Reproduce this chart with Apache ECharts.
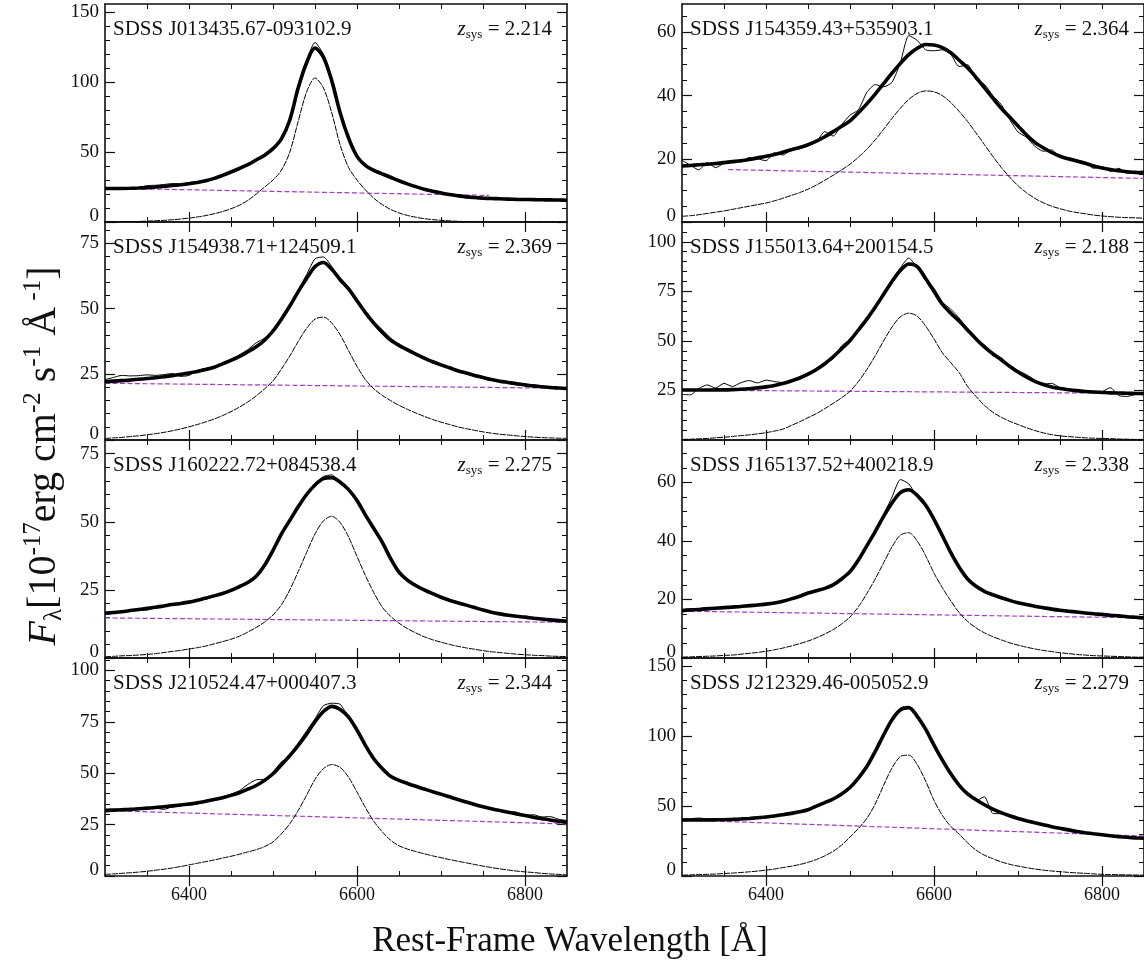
<!DOCTYPE html>
<html><head><meta charset="utf-8">
<script src="https://cdn.jsdelivr.net/npm/echarts@6/dist/echarts.min.js"></script>
<style>html,body{margin:0;padding:0;background:#fff}#c{width:1144px;height:976px}</style>
</head><body><div id="c"></div>
<script>
// ---------------- DATA ----------------
const WAVE = [6300,6310,6320,6330,6340,6350,6360,6370,6380,6390,
              6400,6410,6420,6430,6440,6450,6460,6470,6480,6490,
              6500,6510,6520,6530,6540,6550,6560,6570,6580,6590,
              6600,6610,6620,6630,6640,6650,6660,6670,6680,6690,
              6700,6710,6720,6730,6740,6750,6760,6770,6780,6790,
              6800,6810,6820,6830,6840,6850];

const X_LABELS = [6400, 6600, 6800];
const X_MINOR_TICKS = [6350,6400,6450,6500,6550,6600,6650,6700,6750,6800];

const NAMES = ["SDSS J013435.67-093102.9","SDSS J154359.43+535903.1",
               "SDSS J154938.71+124509.1","SDSS J155013.64+200154.5",
               "SDSS J160222.72+084538.4","SDSS J165137.52+400218.9",
               "SDSS J210524.47+000407.3","SDSS J212329.46-005052.9"];
const ZSYS = ["2.214","2.364","2.369","2.188","2.275","2.338","2.344","2.279"];

const Y_MAX = [156, 69, 83, 110, 80, 74.5, 106, 156];
const Y_LABELS = [[0,50,100,150],[0,20,40,60],[0,25,50,75],[25,50,75,100],
                  [0,25,50,75],[0,20,40,60],[0,25,50,75,100],[0,50,100,150]];
const Y_MINOR = [10,5,5,5,5,5,5,10];

// continuum (start/end wavelength, start/end flux)
const CONT_WAVE = [[6344,6757],[6355,6850],[6300,6850],[6300,6850],[6300,6850],[6300,6850],[6300,6850],[6300,6850]];
const CONT_FLUX = [[23.7,19.0],[16.6,13.8],[21.6,19.7],[25.2,23.5],[14.7,13.1],[16.0,13.7],[31.8,25.3],[40.1,28.6]];

// ---- J013435.67-093102.9 ----
const L1_FIT = [24.0,24.0,24.0,24.1,24.3,24.6,25.0,25.5,26.1,26.7,
  27.4,28.3,29.5,31.2,33.4,35.8,38.3,41.0,44.4,47.8,
  52.5,59.5,73.0,96.0,114.0,124.5,118.0,101.0,78.0,60.0,
  47.0,40.5,37.0,34.5,32.0,29.5,27.3,25.3,23.5,22.0,
  20.8,19.7,18.8,18.0,17.5,17.1,16.8,16.6,16.4,16.2,
  16.1,16.0,15.9,15.8,15.7,15.6];
const L1_OBS = [null,null,null,null,24.8,26.0,26.3,26.8,27.5,27.2,
  28.3,28.8,30.0,31.5,33.8,36.5,38.8,41.6,44.6,48.2,
  52.8,60.0,74.0,97.0,116.0,128.5,120.0,102.0,79.0,61.0,
  46.5,40.0,36.0,33.5,31.2,29.0,27.0,25.2,23.8,22.4,
  21.5,20.0,19.5,18.3,17.6,17.2,null,null,null,null,
  null,null,null,null,null,null];
const L1_COMP = [0,0.1,0.2,0.3,0.4,0.6,0.9,1.2,1.6,2.1,
  2.8,3.6,4.6,5.9,7.5,9.5,12,15.5,20,25,
  30,37,50,72,93,103,96,78,55,39,
  30,23,17,12.5,9,6.5,4.7,3.4,2.4,1.7,
  1.2,0.8,0.5,0.3,0.2,0.1,0,0,0,0,
  0,0,0,0,0,0];

// ---- J154359.43+535903.1 ----
const R1_FIT = [17.7,17.9,18.1,18.3,18.5,18.8,19.1,19.4,19.8,20.3,
  20.8,21.4,22.1,22.9,23.6,24.5,25.6,27.0,28.6,30.3,
  32.0,34.6,37.4,40.5,43.8,47.1,50.2,53.0,55.0,56.2,
  56.0,55.2,53.6,51.2,48.8,45.8,42.5,39.2,36.0,33.2,
  30.4,27.6,25.2,23.5,22.0,20.8,20.0,19.3,18.6,17.7,
  17.1,16.6,16.2,15.9,15.7,15.5];
const R1_OBS = [19.5,18.0,16.5,18.8,17.2,18.6,19.3,19.0,20.4,20.0,
  19.4,21.9,21.2,22.8,23.2,24.0,25.4,28.6,27.2,30.8,
  33.8,35.5,41.0,43.5,42.8,44.2,50.5,59.0,57.5,54.5,
  54.2,54.5,53.0,49.2,49.8,45.0,43.6,40.0,37.2,32.5,
  28.5,26.8,24.0,22.4,22.8,20.6,20.3,19.6,19.0,17.0,
  17.6,16.0,17.0,15.4,15.9,16.2];
const R1_COMP = [1.8,2.0,2.3,2.7,3.1,3.5,4.0,4.5,5.0,5.5,
  6.0,6.7,7.5,8.4,9.3,10.4,11.7,13.2,14.8,16.5,
  18.3,20.5,23.0,26.0,29.3,32.8,36.0,38.8,40.7,41.5,
  41.2,40.0,37.8,35.0,31.8,28.2,24.5,20.8,17.3,14.2,
  11.5,9.3,7.5,6.1,5.0,4.2,3.5,3.0,2.6,2.2,
  1.9,1.7,1.5,1.4,1.3,1.2];

// ---- J154938.71+124509.1 ----
const L2_FIT = [22.2,22.4,22.6,22.8,23.1,23.4,23.7,24.1,24.5,25.0,
  25.5,26.1,26.8,27.7,29.0,30.3,31.8,33.6,35.5,38.0,
  41.5,46.0,51.0,56.5,61.5,66.0,67.6,65.0,61.0,57.5,
  53.0,48.5,44.5,41.0,38.0,36.0,34.3,32.7,31.2,29.8,
  28.6,27.5,26.4,25.5,24.6,23.8,23.0,22.4,21.9,21.4,
  21.0,20.6,20.3,20.0,19.8,19.6];
const L2_OBS = [23.0,23.8,24.6,24.4,24.5,24.8,24.6,24.9,25.3,24.2,
  24.6,26.5,27.3,28.0,29.3,30.8,32.4,34.4,37.0,38.8,
  42.0,46.5,51.3,57.0,63.0,69.0,69.7,66.0,60.5,57.0,
  52.8,48.5,45.0,42.0,38.8,36.6,34.8,33.0,31.0,29.6,
  28.4,27.2,26.6,25.3,24.2,23.5,23.3,22.2,21.8,21.0,
  20.8,20.4,20.5,19.9,19.7,19.5];
const L2_COMP = [0.6,0.8,1.0,1.3,1.6,2.0,2.4,2.9,3.5,4.2,
  5.0,5.9,6.9,8.0,9.3,10.8,12.5,14.5,16.8,19.5,
  22.5,27.0,32.0,37.5,42.5,46.0,46.8,44.5,40.0,34.0,
  28.0,23.0,19.5,17.0,15.0,13.2,11.7,10.3,9.0,7.8,
  6.8,5.9,5.0,4.3,3.7,3.1,2.6,2.2,1.9,1.6,
  1.3,1.1,0.9,0.8,0.7,0.6];

// ---- J155013.64+200154.5 ----
const R2_FIT = [25.2,25.2,25.2,25.2,25.3,25.3,25.4,25.6,25.9,26.3,
  26.8,27.5,28.5,29.8,31.3,33.2,35.6,38.5,42.0,46.0,
  50.2,55.5,61.0,67.0,73.5,80.0,85.5,88.8,87.5,81.5,
  75.0,68.5,64.0,60.0,55.5,51.0,47.0,43.5,40.5,37.2,
  34.3,31.8,29.6,28.0,26.8,26.0,25.4,24.9,24.5,24.2,
  24.0,23.8,23.7,23.6,23.5,23.4];
const R2_OBS = [23.0,22.8,26.0,27.8,26.2,28.6,27.0,28.9,30.0,28.8,
  30.2,29.5,29.0,30.2,31.0,33.0,35.0,38.6,41.0,47.5,
  50.5,55.0,60.0,67.8,74.0,80.5,87.0,91.8,87.0,80.5,
  76.5,69.5,66.0,61.5,56.0,50.5,48.0,42.5,41.5,37.0,
  35.0,33.0,30.3,28.2,28.6,26.4,25.8,25.0,24.3,23.8,
  24.4,26.4,22.4,22.0,23.0,23.2];
const R2_COMP = [0.3,0.4,0.6,0.8,1.1,1.4,1.8,2.2,2.6,3.1,
  3.7,4.5,5.5,7.3,9.2,11.3,13.3,15.8,18.5,21.3,
  24.6,29.5,35.5,42.5,50.0,57.0,62.2,64.0,62.5,57.5,
  51.0,44.0,39.0,34.0,27.0,22.0,17.5,14.0,11.5,9.5,
  7.8,6.2,4.8,3.6,2.7,2.1,1.7,1.4,1.1,0.9,
  0.8,0.7,0.5,0.4,0.3,0.3];

// ---- J160222.72+084538.4 ----
const L3_FIT = [16.4,16.7,17.0,17.4,17.8,18.2,18.6,19.1,19.6,20.0,
  20.5,21.2,22.0,22.8,23.7,24.8,26.2,27.7,30.0,34.0,
  39.5,45.5,50.5,55.5,60.0,63.5,65.8,66.2,64.5,61.8,
  57.8,52.5,47.5,42.5,36.5,31.5,28.6,26.6,25.0,23.6,
  22.3,21.2,20.3,19.4,18.5,17.6,16.8,16.2,15.7,15.3,
  15.0,14.6,14.3,14.0,13.7,13.5];
const L3_OBS = [16.8,16.5,17.2,17.2,17.5,17.6,18.4,19.3,19.4,19.7,
  20.6,21.4,21.6,22.6,23.9,24.6,26.0,27.9,30.2,34.0,
  39.6,45.8,50.6,55.4,60.2,64.0,66.6,67.2,64.4,61.6,
  57.6,52.8,47.6,42.4,36.4,31.6,28.5,26.8,25.0,23.4,
  22.1,21.3,20.2,19.5,18.6,17.4,16.8,16.4,15.5,15.4,
  14.8,14.7,14.2,14.1,13.8,13.5];
const L3_COMP = [0.5,0.6,0.8,0.9,1.1,1.3,1.6,2.0,2.4,2.8,
  3.3,3.8,4.4,5.2,6.0,6.9,8.0,9.5,11.2,13.2,
  15.8,19.5,25.0,31.7,38.7,45.5,50.3,52.0,49.7,44.4,
  37.3,30.3,24.0,18.7,15.3,12.8,10.8,9.2,7.8,6.7,
  5.8,5.0,4.3,3.7,3.2,2.7,2.3,2.0,1.7,1.4,
  1.2,1.0,0.9,0.7,0.6,0.5];

// ---- J165137.52+400218.9 ----
const R3_FIT = [16.2,16.4,16.6,16.8,17.0,17.2,17.4,17.6,17.9,18.1,
  18.4,18.8,19.4,20.2,21.1,22.2,23.0,23.8,25.0,27.0,
  29.5,33.5,38.3,43.2,48.4,53.0,56.5,57.5,55.6,52.3,
  47.4,41.8,36.0,31.0,27.0,24.5,22.8,21.6,20.6,19.7,
  18.9,18.3,17.7,17.2,16.7,16.3,16.0,15.7,15.4,15.1,
  14.9,14.6,14.4,14.1,13.9,13.7];
const R3_OBS = [16.5,16.9,16.8,17.3,17.3,17.5,17.2,17.9,17.6,18.0,
  18.5,18.7,19.2,20.4,21.0,22.0,23.2,23.6,25.2,26.8,
  29.3,33.8,38.0,43.5,49.0,55.0,61.0,59.5,55.0,51.6,
  47.8,42.4,36.0,30.5,27.3,24.2,22.9,21.4,20.8,19.5,
  19.0,18.5,17.5,17.4,16.5,16.4,15.8,15.8,15.3,15.2,
  14.8,14.7,14.3,14.2,13.8,13.6];
const R3_COMP = [0.3,0.4,0.5,0.6,0.7,0.9,1.0,1.3,1.6,1.9,
  2.3,2.8,3.4,4.1,4.9,5.8,6.9,8.2,9.7,11.6,
  14.0,17.5,22.0,27.0,32.5,38.0,42.0,42.8,40.0,35.0,
  29.0,24.0,19.5,15.5,12.5,10.3,8.6,7.3,6.2,5.2,
  4.4,3.7,3.1,2.6,2.2,1.8,1.5,1.2,1.0,0.8,
  0.7,0.6,0.5,0.4,0.3,0.3];

// ---- J210524.47+000407.3 ----
const L4_FIT = [31.8,32.0,32.2,32.4,32.7,33.0,33.3,33.7,34.1,34.5,
  35.0,35.6,36.3,37.2,38.1,39.2,40.5,42.2,44.0,46.5,
  49.7,54.0,58.5,63.5,69.0,75.0,80.0,82.5,81.0,77.3,
  71.0,63.5,57.0,52.3,48.5,46.5,45.0,43.6,42.3,41.0,
  39.8,38.5,37.2,36.0,34.8,33.7,32.7,31.8,31.0,30.2,
  29.4,28.6,27.9,27.2,26.6,26.1];
const L4_OBS = [32.4,32.6,32.3,32.0,32.3,33.4,33.0,32.4,33.6,34.2,
  34.4,35.0,36.7,37.0,38.6,39.8,41.5,44.5,46.8,47.0,
  50.5,55.5,58.0,64.5,70.5,76.5,82.8,84.0,83.5,77.0,
  70.0,63.8,57.2,52.0,48.8,46.8,44.6,43.2,42.0,41.3,
  39.5,38.7,37.0,36.2,34.6,33.9,32.9,31.6,31.4,31.0,
  29.5,29.8,28.7,28.9,27.6,27.0];
const L4_COMP = [0.8,1.0,1.3,1.6,1.9,2.3,2.8,3.3,3.9,4.6,
  5.4,6.2,7.0,7.8,8.7,9.6,10.6,11.7,12.8,14.3,
  16.6,20.5,25.4,31.8,39.3,47.0,52.2,54.2,52.8,48.0,
  40.8,33.3,26.6,21.5,17.4,14.7,13.1,11.9,10.8,9.8,
  8.9,8.0,7.2,6.4,5.6,4.8,4.1,3.5,2.9,2.4,
  2.0,1.7,1.3,1.0,0.8,0.6];

// ---- J212329.46-005052.9 ----
const R4_FIT = [40.1,40.1,40.1,40.1,40.2,40.3,40.5,40.8,41.2,41.7,
  42.2,43.0,43.8,44.8,45.9,47.4,50.0,52.5,55.1,58.7,
  63.3,70.0,78.3,89.1,100.9,111.8,119.0,120.5,114.3,105.1,
  93.7,82.9,73.1,64.9,58.7,54.6,51.0,47.9,45.3,43.1,
  41.2,39.6,38.1,36.7,35.3,34.1,33.0,31.9,31.0,30.2,
  29.5,28.8,28.2,27.7,27.3,27.0];
const R4_OBS = [40.8,41.0,41.5,40.9,40.4,40.2,40.9,41.4,41.2,41.5,
  42.4,42.6,43.6,45.1,45.7,47.8,49.6,52.7,55.4,58.3,
  63.7,70.5,77.9,89.4,101.4,111.2,119.3,120.9,113.9,105.5,
  93.3,83.2,72.7,65.3,58.3,54.0,56.7,44.8,44.5,42.6,
  40.8,38.9,37.5,36.9,35.0,34.4,32.5,31.7,31.3,29.9,
  29.7,28.4,28.4,27.6,27.5,27.3];
const R4_COMP = [0.6,0.8,1.0,1.2,1.4,1.8,2.1,2.5,3.0,3.5,
  4.2,5.0,6.0,7.0,8.2,9.8,11.8,14.4,17.7,22.1,
  27.8,34.0,41.2,51.5,64.9,77.3,85.5,86.5,79.8,68.0,
  54.1,43.3,35.5,29.9,23.7,18.5,14.9,12.4,10.1,8.4,
  7.1,6.0,5.0,4.2,3.6,3.1,2.6,2.2,1.9,1.5,
  1.2,1.0,0.9,0.8,0.7,0.6];

// panel order: row-major (left, right)
const FITS  = [L1_FIT, R1_FIT, L2_FIT, R2_FIT, L3_FIT, R3_FIT, L4_FIT, R4_FIT];
const OBSS  = [L1_OBS, R1_OBS, L2_OBS, R2_OBS, L3_OBS, R3_OBS, L4_OBS, R4_OBS];
const COMPS = [L1_COMP, R1_COMP, L2_COMP, R2_COMP, L3_COMP, R3_COMP, L4_COMP, R4_COMP];

// ---------------- LAYOUT / STYLE ----------------
const FONT = '"Liberation Serif", "DejaVu Serif", serif';
const INK = '#111';
const CONT_COLOR = '#a23cc6';
const COL_LEFT = [105, 682];
const PANEL_W = 462, PANEL_H = 218, TOP0 = 4;

function pairs(vals) {
  const out = [];
  WAVE.forEach((w, i) => { if (vals[i] !== null && vals[i] !== undefined) out.push([w, vals[i]]); });
  return out;
}

const grids = [], xAxes = [], yAxes = [], series = [], graphics = [];

for (let i = 0; i < 8; i++) {
  const col = i % 2, row = Math.floor(i / 2);
  const left = COL_LEFT[col], top = TOP0 + row * PANEL_H;
  grids.push({ left: left, top: top, width: PANEL_W, height: PANEL_H, show: false, containLabel: false });

  const xb = xAxes.length;
  const xCommon = { gridIndex: i, type: 'value', min: 6300, max: 6850,
    splitLine: { show: false }, axisLabel: { show: false }, axisLine: { show: false }, axisTick: { show: false } };
  ['bottom', 'top'].forEach(pos => {
    xAxes.push(Object.assign({}, xCommon, { position: pos,
      axisLine: { show: true, onZero: false, lineStyle: { color: INK, width: 1.6 } },
      axisTick: { show: true, inside: true, length: 5, customValues: X_MINOR_TICKS, lineStyle: { color: INK, width: 1 } } }));
    xAxes.push(Object.assign({}, xCommon, { position: pos,
      axisTick: { show: true, inside: true, length: 10, customValues: X_LABELS, lineStyle: { color: INK, width: 1.2 } },
      axisLabel: { show: (pos === 'bottom' && row === 3), customValues: X_LABELS, margin: 10,
        formatter: v => String(v), fontSize: 18, fontFamily: FONT, color: INK } }));
  });

  const yb = yAxes.length;
  const minors = [];
  for (let v = 0; v < Y_MAX[i]; v += Y_MINOR[i]) minors.push(v);
  const yCommon = { gridIndex: i, type: 'value', min: 0, max: Y_MAX[i],
    splitLine: { show: false }, axisLabel: { show: false }, axisLine: { show: false }, axisTick: { show: false } };
  ['left', 'right'].forEach(pos => {
    yAxes.push(Object.assign({}, yCommon, { position: pos,
      axisLine: { show: true, onZero: false, lineStyle: { color: INK, width: 1.6 } },
      axisTick: { show: true, inside: true, length: 5, customValues: minors, lineStyle: { color: INK, width: 1 } } }));
    yAxes.push(Object.assign({}, yCommon, { position: pos,
      axisTick: { show: true, inside: true, length: 10, customValues: Y_LABELS[i], lineStyle: { color: INK, width: 1.2 } },
      axisLabel: { show: pos === 'left', customValues: Y_LABELS[i], margin: 6,
        formatter: v => (v === 0 ? '{lo|0}' : String(v)),
        rich: { lo: { fontSize: 19, fontFamily: FONT, color: INK, padding: [0, 0, 12, 0] } },
        fontSize: 19, fontFamily: FONT, color: INK } }));
  });

  const base = { type: 'line', xAxisIndex: xb, yAxisIndex: yb, symbol: 'none', showSymbol: false,
    silent: true, animation: false, clip: true };
  series.push(Object.assign({}, base, {
    data: [[CONT_WAVE[i][0], CONT_FLUX[i][0]], [CONT_WAVE[i][1], CONT_FLUX[i][1]]],
    lineStyle: { color: CONT_COLOR, width: 1.2, type: [5, 2.5] }, z: 2 }));
  series.push(Object.assign({}, base, { data: pairs(COMPS[i]), smooth: 0.3,
    lineStyle: { color: '#000', width: 1, type: [6, 1] }, z: 3 }));
  series.push(Object.assign({}, base, { data: pairs(OBSS[i]), smooth: 0.2,
    lineStyle: { color: '#000', width: 1 }, z: 4 }));
  series.push(Object.assign({}, base, { data: pairs(FITS[i]), smooth: 0.3,
    lineStyle: { color: '#000', width: 3.6 }, z: 5 }));

  graphics.push({ type: 'text', x: left + 8, y: top + 25.5, silent: true, z: 100,
    style: { text: NAMES[i], fontSize: 21, fontFamily: FONT, fill: INK, align: 'left', verticalAlign: 'middle' } });
  graphics.push({ type: 'text', x: left + PANEL_W - 15, y: top + 25.5, silent: true, z: 100,
    style: { text: '{z|z}{s|sys}{n| = ' + ZSYS[i] + '}', align: 'right', verticalAlign: 'middle', fill: INK,
      rich: {
        z: { fontSize: 21, fontStyle: 'italic', fontFamily: FONT, lineHeight: 24, verticalAlign: 'middle', fill: INK },
        s: { fontSize: 13, fontFamily: FONT, lineHeight: 13, verticalAlign: 'bottom', fill: INK },
        n: { fontSize: 21, fontFamily: FONT, lineHeight: 24, verticalAlign: 'middle', fill: INK }
      } } });
}

// axis titles
graphics.push({ type: 'text', x: 570, y: 942, silent: true,
  style: { text: 'Rest-Frame Wavelength [Å]', fontSize: 35, fontFamily: FONT, fill: INK, align: 'center', verticalAlign: 'middle' } });
graphics.push({ type: 'text', x: 44, y: 456, rotation: Math.PI / 2, silent: true,
  style: { text: '{F|F}{sub|λ}{n|[10}{sup|-17}{n|erg cm}{sup|-2}{n| s}{sup|-1}{n| Å}{sup| -1}{n|]}',
    align: 'center', verticalAlign: 'middle', fill: INK,
    rich: {
      F: { fontSize: 40, fontStyle: 'italic', fontFamily: FONT, lineHeight: 46, verticalAlign: 'middle', fill: INK },
      n: { fontSize: 40, fontFamily: FONT, lineHeight: 46, verticalAlign: 'middle', fill: INK },
      sub: { fontSize: 25, fontFamily: FONT, lineHeight: 26, verticalAlign: 'bottom', fill: INK },
      sup: { fontSize: 25, fontFamily: FONT, lineHeight: 26, verticalAlign: 'top', fill: INK }
    } } });

const chart = echarts.init(document.getElementById('c'), null, { renderer: 'canvas' });
chart.setOption({
  animation: false,
  backgroundColor: '#fff',
  grid: grids, xAxis: xAxes, yAxis: yAxes, series: series, graphic: graphics
});
</script>
</body></html>
